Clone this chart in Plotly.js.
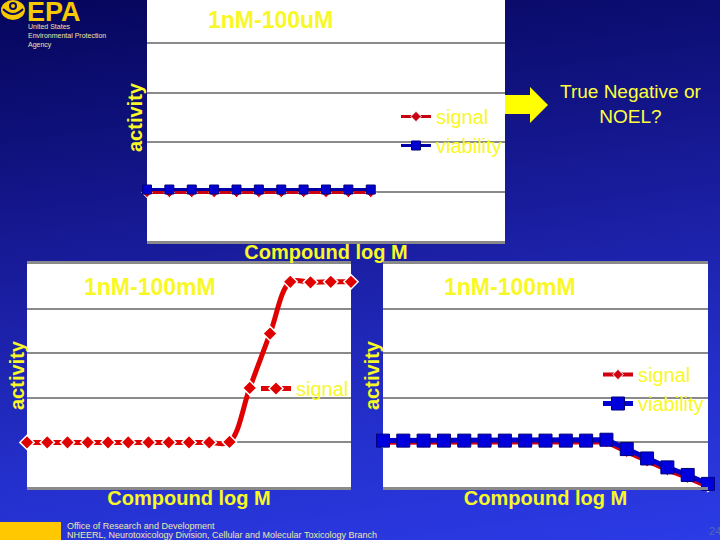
<!DOCTYPE html>
<html>
<head>
<meta charset="utf-8">
<script src="https://cdn.plot.ly/plotly-3.0.1.min.js"></script>
<style>
html,body{margin:0;padding:0;background:#1a1f9a;}
#chart{width:720px;height:540px;background:linear-gradient(172deg,#05055a 0%,#10127f 25%,#1b20a6 50%,#2430cc 75%,#2b3be6 100%);}
</style>
</head>
<body>
<div id="chart"></div>
<script>
// ---- data ----
const topConc = [0,1,2,3,4,5,6,7,8,9,10];
const topSignal = [0.98,0.98,0.98,0.98,0.98,0.98,0.98,0.98,0.98,0.98,0.98];
const topViability = [1.04,1.04,1.04,1.04,1.04,1.04,1.04,1.04,1.04,1.04,1.04];

const leftConc = [0,1,2,3,4,5,6,7,8,9,10,11,12,13,14,15,16];
const leftSignal = [1,1,1,1,1,1,1,1,1,1,1.01,2.22,3.44,4.6,4.59,4.6,4.6];

const rightConc = [0,1,2,3,4,5,6,7,8,9,10,11,12,13,14,15,16];
const rightSignal = [0.99,0.99,0.99,0.99,0.99,0.99,0.99,0.99,0.99,0.99,0.99,1.0,0.78,0.57,0.37,0.2,0.0];
const rightViability = [1.04,1.04,1.04,1.04,1.04,1.04,1.04,1.04,1.04,1.04,1.04,1.06,0.85,0.64,0.44,0.27,0.07];

const seriesNames = ['signal','viability'];
const xTitle = 'Compound log M';
const yTitle = 'activity';
const titles = ['1nM-100uM','1nM-100mM','1nM-100mM'];
const question = 'True Negative or<br>NOEL?';
const agencyLines = 'United States<br>Environmental Protection<br>Agency';
const footerLines = ['Office of Research and Development','NHEERL, Neurotoxicology Division, Cellular and Molecular Toxicology Branch'];
const pageNumber = '24';

// ---- helpers for pixel -> paper ----
const W = 720, H = 540;
const X = p => p / W;
const Y = p => 1 - p / H;

const FONT = 'Liberation Sans, Arial, sans-serif';
const YEL = '#F8F826';
const RED = '#E00000';
const BLUE = '#0000D0';
const GRID = '#8a8a8a';

const traces = [
  {x: topConc, y: topSignal, name: seriesNames[0], xaxis: 'x', yaxis: 'y', legend: 'legend',
   mode: 'lines+markers', cliponaxis: false,
   line: {color: '#C80010', width: 3},
   marker: {symbol: 'diamond', size: 8, color: '#C80010', line: {color: '#ffffff', width: 1}}},
  {x: topConc, y: topViability, name: seriesNames[1], xaxis: 'x', yaxis: 'y', legend: 'legend',
   mode: 'lines+markers', cliponaxis: false,
   line: {color: '#0000A8', width: 3},
   marker: {symbol: 'square', size: 9, color: BLUE, line: {color: '#000080', width: 1}}},

  {x: leftConc, y: leftSignal, name: seriesNames[0], xaxis: 'x2', yaxis: 'y2', legend: 'legend2',
   mode: 'lines+markers', cliponaxis: false,
   line: {color: RED, width: 5, shape: 'spline', smoothing: 1},
   marker: {symbol: 'diamond', size: 11, color: RED, line: {color: '#ffffff', width: 1.5}}},

  {x: rightConc, y: rightSignal, name: seriesNames[0], xaxis: 'x3', yaxis: 'y3', legend: 'legend3',
   mode: 'lines+markers', cliponaxis: false,
   line: {color: '#D00010', width: 4},
   marker: {symbol: 'diamond', size: 8, color: '#D00010', line: {color: '#ffffff', width: 1}}},
  {x: rightConc, y: rightViability, name: seriesNames[1], xaxis: 'x3', yaxis: 'y3', legend: 'legend3',
   mode: 'lines+markers', cliponaxis: false,
   line: {color: BLUE, width: 5},
   marker: {symbol: 'square', size: 13, color: '#0000DD', line: {color: '#00007A', width: 1}}}
];

function xAx(domain, anchor, mirror) {
  return {
    domain: domain, anchor: anchor, range: [0, 16],
    showgrid: false, zeroline: false, showticklabels: false, ticks: '',
    showline: true, linecolor: GRID, linewidth: 3, mirror: mirror,
    title: {text: xTitle, standoff: 2, font: {family: FONT, size: 20, color: YEL, weight: 700}}
  };
}
function yAx(domain, anchor, range) {
  return {
    domain: domain, anchor: anchor, range: range, dtick: 1, tick0: 0,
    showgrid: true, gridcolor: GRID, gridwidth: 2,
    zeroline: false, showticklabels: false, ticks: '', showline: false
  };
}

const legendBase = {bgcolor: 'rgba(0,0,0,0)', borderwidth: 0, xanchor: 'left', yanchor: 'top',
  font: {family: FONT, size: 20, color: YEL}};

const botDom = [Y(487), Y(264)];

function yLabel(xp, yp) {
  return {text: yTitle, xref: 'paper', yref: 'paper', x: X(xp), y: Y(yp), xanchor: 'center', yanchor: 'middle',
    textangle: -90, showarrow: false, font: {family: FONT, size: 20, color: YEL, weight: 700}};
}
function chartTitle(t, xp, yp) {
  return {text: t, xref: 'paper', yref: 'paper', x: X(xp), y: Y(yp), xanchor: 'center', yanchor: 'middle',
    showarrow: false, font: {family: FONT, size: 23, color: YEL, weight: 700}};
}

const layout = {
  width: W, height: H,
  margin: {l: 0, r: 0, t: 0, b: 0},
  paper_bgcolor: 'rgba(0,0,0,0)',
  plot_bgcolor: '#ffffff',
  font: {family: FONT},
  showlegend: true,
  xaxis: xAx([X(147), X(505)], 'y', false),
  yaxis: yAx([Y(241), 1], 'x', [0, 4.87]),
  xaxis2: xAx([X(27), X(351)], 'y2', true),
  yaxis2: yAx(botDom, 'x2', [0, 5]),
  xaxis3: xAx([X(383), X(708)], 'y3', true),
  yaxis3: yAx(botDom, 'x3', [0, 5]),
  legend: Object.assign({}, legendBase, {x: X(396), y: Y(97)}),
  legend2: Object.assign({}, legendBase, {x: X(256), y: Y(369)}),
  legend3: Object.assign({}, legendBase, {x: X(598), y: Y(355)}),
  annotations: [
    chartTitle(titles[0], 270, 20),
    chartTitle(titles[1], 150, 287),
    chartTitle(titles[2], 510, 287),
    yLabel(135, 117),
    yLabel(17, 375),
    yLabel(372, 375),
    {text: question, xref: 'paper', yref: 'paper', x: X(630), y: Y(104), xanchor: 'center', yanchor: 'middle',
     showarrow: false, align: 'center', font: {family: FONT, size: 19, color: '#FFFF40'}},
    // EPA logo text
    {text: 'EPA', xref: 'paper', yref: 'paper', x: X(25), y: Y(12), xanchor: 'left', yanchor: 'middle',
     height: 22, valign: 'middle',
     showarrow: false, font: {family: FONT, size: 27, color: '#F5C800', weight: 700}},
    {text: agencyLines, xref: 'paper', yref: 'paper', x: X(26), y: Y(36), xanchor: 'left', yanchor: 'middle',
     align: 'left', showarrow: false, font: {family: FONT, size: 7, color: '#EDE4A8'}},
    // footer
    {text: footerLines[0], xref: 'paper', yref: 'paper', x: X(65), y: Y(526), xanchor: 'left', yanchor: 'middle',
     showarrow: false, font: {family: FONT, size: 9, color: '#EDE9A8'}},
    {text: footerLines[1], xref: 'paper', yref: 'paper', x: X(65), y: Y(535), xanchor: 'left', yanchor: 'middle',
     showarrow: false, font: {family: FONT, size: 9, color: '#EDE9A8'}},
    {text: pageNumber, xref: 'paper', yref: 'paper', x: X(707), y: Y(531), xanchor: 'left', yanchor: 'middle',
     showarrow: false, font: {family: FONT, size: 11, color: '#5566B8'}}
  ],
  shapes: [
    // arrow
    {type: 'path', xref: 'paper', yref: 'paper', line: {width: 0}, fillcolor: '#FFFF00',
     path: `M ${X(505)} ${Y(95)} L ${X(530)} ${Y(95)} L ${X(530)} ${Y(87)} L ${X(548)} ${Y(105)} L ${X(530)} ${Y(123)} L ${X(530)} ${Y(114)} L ${X(505)} ${Y(114)} Z`},
    // footer box
    {type: 'rect', xref: 'paper', yref: 'paper', x0: 0, x1: X(61), y0: Y(540), y1: Y(522),
     line: {width: 0}, fillcolor: '#FFC800'},
    // EPA emblem
    {type: 'circle', xref: 'paper', yref: 'paper', x0: X(1), x1: X(25), y0: Y(20), y1: Y(0),
     line: {width: 0}, fillcolor: '#F5C800'},
    {type: 'path', xref: 'paper', yref: 'paper', line: {color: '#0a0a60', width: 2},
     path: `M ${X(3)} ${Y(9)} Q ${X(13)} ${Y(19)} ${X(23)} ${Y(9)}`},
    {type: 'circle', xref: 'paper', yref: 'paper', x0: X(9), x1: X(17), y0: Y(10), y1: Y(2),
     line: {width: 0}, fillcolor: '#0a0a60'},
    {type: 'circle', xref: 'paper', yref: 'paper', x0: X(11), x1: X(15), y0: Y(8), y1: Y(4),
     line: {width: 0}, fillcolor: '#F5C800'}
  ]
};

Plotly.newPlot('chart', traces, layout, {staticPlot: true, displayModeBar: false});
</script>
</body>
</html>
